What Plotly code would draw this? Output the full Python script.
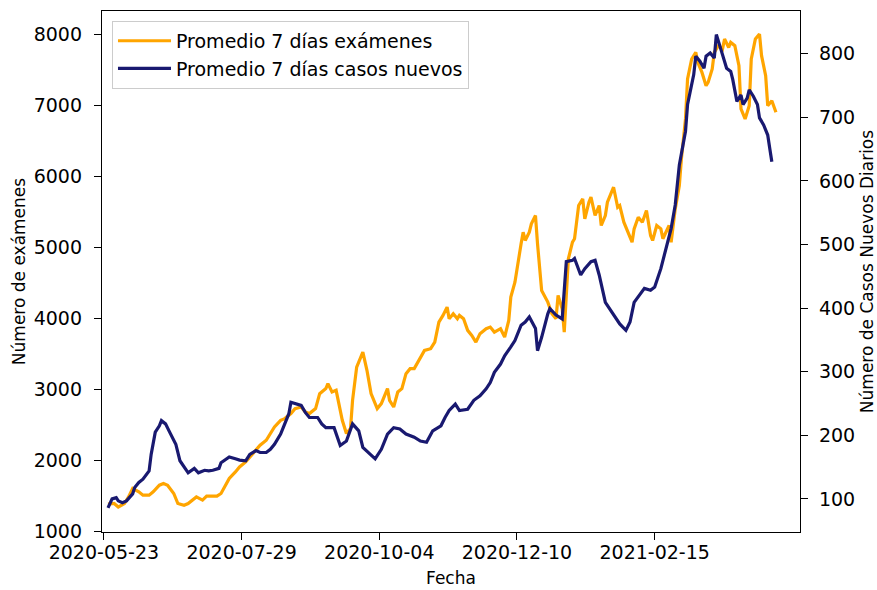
import pandas as pd
import plotly.graph_objects as go

BASE_DATE = "2020-05-23"

# days since 2020-05-23 and 7-day average of tests (left axis)
exam_day = [2, 5, 7, 10, 12, 14, 17, 19, 22, 24, 27, 29, 31, 34, 36, 39, 41, 44, 45, 48,
            50, 53, 55, 57, 59, 61, 64, 66, 69, 71, 74, 76, 79, 81, 83, 86, 88, 91, 93, 96,
            98, 100, 103, 105, 108, 109, 111, 113, 114, 116, 118, 120, 121, 123, 126, 128, 130, 133, 135, 138,
            139, 141, 143, 145, 147, 149, 151, 154, 156, 159, 161, 163, 165, 167, 168, 170, 172, 173, 175, 177,
            179, 181, 183, 186, 188, 190, 193, 195, 197, 198, 200, 203, 204, 205, 207, 208, 210, 211, 213, 216,
            218, 220, 221, 223, 224, 226, 228, 229, 231, 233, 234, 236, 237, 239, 241, 242, 244, 245, 248, 250,
            251, 253, 255, 257, 258, 260, 262, 264, 266, 267, 269, 271, 272, 275, 276, 278, 280, 281, 283, 284,
            286, 288, 289, 291, 293, 294, 296, 297, 299, 301, 302, 304, 305, 307, 309, 310, 312, 314, 315, 317,
            319, 320, 322, 323, 325, 327]
exam_avg = [1380, 1390, 1340, 1390, 1483, 1601, 1554, 1507, 1507, 1554, 1648, 1672, 1648, 1531, 1390, 1366, 1390, 1461, 1483, 1437,
            1493, 1493, 1493, 1531, 1648, 1742, 1835, 1906, 1976, 2047, 2141, 2211, 2282, 2376, 2469, 2563, 2587, 2658, 2728, 2751,
            2680, 2658, 2728, 2939, 3010, 3080, 2962, 2986, 2845, 2563, 2376, 2447, 2845, 3314, 3525, 3268, 2939, 2728, 2799, 3010,
            2845, 2751, 2962, 3010, 3221, 3292, 3292, 3455, 3549, 3573, 3666, 3948, 4042, 4159, 3996, 4066, 3996, 4042, 3996, 3831,
            3761, 3666, 3785, 3855, 3878, 3807, 3855, 3737, 3972, 4300, 4511, 5052, 5216, 5099, 5216, 5334, 5451, 5052, 4394, 4230,
            4066, 3996, 4324, 4137, 3807, 4841, 5075, 5123, 5592, 5686, 5404, 5638, 5709, 5451, 5592, 5310, 5451, 5638, 5850, 5568,
            5592, 5357, 5216, 5075, 5263, 5427, 5357, 5521, 5169, 5099, 5310, 5263, 5123, 5310, 5075, 5545, 5873, 6250, 6813, 7376,
            7658, 7751, 7610, 7469, 7282, 7328, 7517, 7751, 7845, 7799, 7940, 7821, 7892, 7845, 7564, 6954, 6813, 7000, 7658, 7940,
            8010, 7705, 7423, 7000, 7070, 6906]

# days since 2020-05-23 and 7-day average of new cases (right axis)
case_day = [2, 4, 6, 7, 9, 11, 14, 15, 17, 19, 22, 23, 25, 27, 28, 30, 32, 35, 37, 40,
            41, 44, 46, 49, 51, 53, 56, 57, 60, 61, 64, 66, 69, 71, 74, 76, 79, 81, 83, 86,
            88, 90, 91, 94, 96, 98, 100, 104, 106, 108, 112, 115, 118, 121, 124, 126, 130, 132, 135, 138,
            141, 144, 147, 151, 154, 157, 160, 164, 166, 168, 171, 173, 177, 180, 183, 186, 188, 190, 193, 195,
            198, 200, 203, 205, 207, 210, 211, 213, 216, 217, 220, 223, 225, 228, 229, 232, 234, 237, 239, 241,
            244, 246, 249, 251, 254, 256, 258, 261, 263, 266, 268, 271, 273, 276, 278, 280, 283, 284, 287, 288,
            290, 292, 293, 295, 297, 298, 300, 301, 303, 305, 306, 308, 310, 311, 313, 314, 316, 318, 319, 321,
            323, 324, 325]
case_avg = [86, 100, 102, 97, 94, 97, 108, 118, 126, 131, 144, 170, 205, 215, 223, 218, 205, 186, 160, 147,
            141, 148, 141, 145, 144, 145, 148, 157, 163, 166, 163, 161, 160, 170, 176, 173, 173, 178, 186, 202,
            218, 234, 252, 249, 247, 236, 228, 228, 218, 212, 212, 184, 191, 218, 207, 181, 170, 163, 178, 202,
            212, 210, 202, 197, 191, 189, 207, 215, 228, 239, 249, 239, 241, 255, 262, 273, 283, 299, 312, 325,
            339, 349, 373, 378, 386, 368, 333, 354, 391, 399, 389, 383, 473, 475, 478, 452, 462, 473, 475, 452,
            409, 399, 383, 375, 365, 378, 409, 423, 431, 428, 433, 462, 488, 525, 562, 625, 678, 720, 767, 796,
            788, 777, 796, 801, 793, 830, 809, 798, 777, 772, 759, 725, 735, 720, 730, 743, 733, 720, 699, 688,
            672, 651, 630]

tick_labels = ["2020-05-23", "2020-07-29", "2020-10-04", "2020-12-10", "2021-02-15"]
left_ticks = [1000, 2000, 3000, 4000, 5000, 6000, 7000, 8000]
right_ticks = [100, 200, 300, 400, 500, 600, 700, 800]

base = pd.Timestamp(BASE_DATE)
exam_dates = base + pd.to_timedelta(exam_day, unit="D")
case_dates = base + pd.to_timedelta(case_day, unit="D")

fig = go.Figure()
fig.add_trace(go.Scatter(x=exam_dates, y=exam_avg, mode="lines", name="Promedio 7 días exámenes",
                         line=dict(color="#FFA500", width=3.2), yaxis="y"))
fig.add_trace(go.Scatter(x=case_dates, y=case_avg, mode="lines", name="Promedio 7 días casos nuevos",
                         line=dict(color="#191970", width=3.2), yaxis="y2"))

axis_common = dict(ticks="outside", ticklen=7, tickwidth=1.3, tickcolor="black",
                   showline=True, linecolor="black", linewidth=1.3, showgrid=False,
                   zeroline=False)

x_start = base - pd.Timedelta(hours=22)
x_end = base + pd.Timedelta(days=338, hours=17)

title_font = dict(size=17)

fig.update_layout(
    width=877, height=590,
    margin=dict(l=102, r=77, t=11, b=58, autoexpand=False),
    paper_bgcolor="white", plot_bgcolor="white",
    font=dict(family="DejaVu Sans", size=19, color="black"),
    xaxis=dict(type="date", range=[x_start, x_end], tickvals=list(pd.to_datetime(tick_labels)),
               ticktext=tick_labels, mirror=True, ticklabelstandoff=-4,
               title=dict(text="Fecha", standoff=10, font=title_font), **axis_common),
    yaxis=dict(range=[988, 8335], tickvals=left_ticks, ticklabelstandoff=8,
               title=dict(text="Número de exámenes", standoff=3, font=title_font), **axis_common),
    yaxis2=dict(range=[48, 867], tickvals=right_ticks, overlaying="y", side="right",
                ticklabelstandoff=7,
                title=dict(text="Número de Casos Nuevos Diarios", standoff=12, font=title_font),
                **axis_common),
    legend=dict(x=0.0143, y=0.981, xanchor="left", yanchor="top",
                bgcolor="rgba(255,255,255,0.8)", bordercolor="#cccccc", borderwidth=1,
                font=dict(size=19), itemwidth=53),
    showlegend=True,
)

fig.write_html("out.html", config={"displayModeBar": False},
               post_script="document.body.style.margin='0px';")
